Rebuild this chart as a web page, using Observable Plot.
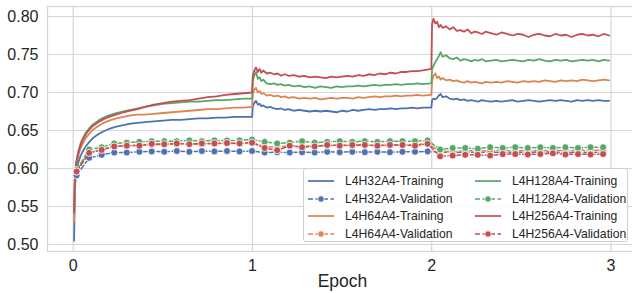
<!DOCTYPE html>
<html><head><meta charset="utf-8">
<script src="https://cdn.jsdelivr.net/npm/d3@7"></script>
<script src="https://cdn.jsdelivr.net/npm/@observablehq/plot@0.6"></script>
<style>
html,body{margin:0;padding:0;background:#fff;overflow:hidden}
#wrap{position:relative;width:632px;height:293px;overflow:hidden;font-family:"Liberation Sans",Arial,sans-serif;color:#262626}
#chart svg{max-width:none !important}
#legend{position:absolute;left:303px;top:168px;width:325px;height:74px;border:1px solid #d0d0d0;border-radius:3px;background:rgba(255,255,255,0.85);box-sizing:border-box}
.item{position:absolute;height:16px;display:flex;align-items:center;font-size:12.2px;white-space:nowrap}
</style></head><body><div id="wrap"><div id="chart"></div><div id="legend"></div></div>
<script>
const models = ["L4H32A4", "L4H64A4", "L4H128A4", "L4H256A4"];
const colors = ["#4C72B0", "#DD8452", "#55A868", "#C44E52"];
const xTicks = [0, 1, 2, 3];
const yTicks = [0.50, 0.55, 0.60, 0.65, 0.70, 0.75, 0.80];

const trainEpoch = [
  0.005, 0.01, 0.015, 0.02, 0.03, 0.04, 0.05, 0.07, 0.09, 0.11, 0.14, 0.17, 0.2, 0.24, 0.28, 0.32, 0.36, 0.4, 0.45, 0.5, 0.55, 0.6, 0.65, 0.7, 0.75, 0.8, 0.85, 0.9, 0.95, 0.998,
  1.002, 1.01, 1.02, 1.03, 1.04, 1.05, 1.06, 1.08, 1.10, 1.12, 1.14, 1.16, 1.18, 1.20, 1.23, 1.26, 1.29, 1.32, 1.35, 1.38, 1.41, 1.44, 1.47, 1.50, 1.53, 1.56, 1.59, 1.62, 1.65, 1.68, 1.71, 1.74, 1.77, 1.80, 1.83, 1.86, 1.89, 1.92, 1.95, 1.998,
  2.002, 2.01, 2.02, 2.03, 2.04, 2.05, 2.06, 2.08, 2.10, 2.12, 2.14, 2.16, 2.18, 2.20, 2.22, 2.24, 2.26, 2.28, 2.30, 2.33, 2.36, 2.39, 2.42, 2.45, 2.48, 2.51, 2.54, 2.57, 2.60, 2.63, 2.66, 2.69, 2.72, 2.75, 2.78, 2.81, 2.84, 2.87, 2.90, 2.93, 2.96, 2.99
];
const trainL4H32A4 = [
  0.505, 0.575, 0.592, 0.600, 0.609, 0.616, 0.621, 0.629, 0.635, 0.640, 0.645, 0.649, 0.652, 0.655, 0.657, 0.659, 0.660, 0.661, 0.662, 0.663, 0.664, 0.664, 0.665, 0.666, 0.666, 0.667, 0.667, 0.668, 0.668, 0.668,
  0.682, 0.686, 0.689, 0.684, 0.685, 0.682, 0.683, 0.680, 0.681, 0.679, 0.678, 0.679, 0.677, 0.678, 0.676, 0.677, 0.676, 0.675, 0.676, 0.675, 0.676, 0.675, 0.674, 0.676, 0.675, 0.677, 0.676, 0.677, 0.678, 0.677, 0.678, 0.678, 0.679, 0.678, 0.679, 0.679, 0.680, 0.679, 0.680, 0.680,
  0.690, 0.692, 0.691, 0.693, 0.696, 0.698, 0.694, 0.695, 0.692, 0.691, 0.692, 0.690, 0.691, 0.689, 0.690, 0.689, 0.688, 0.690, 0.689, 0.688, 0.689, 0.688, 0.689, 0.690, 0.688, 0.689, 0.690, 0.689, 0.688, 0.689, 0.690, 0.689, 0.690, 0.689, 0.688, 0.690, 0.689, 0.690, 0.689, 0.690, 0.689, 0.689
];
const trainL4H64A4 = [
  0.530, 0.585, 0.600, 0.608, 0.618, 0.626, 0.631, 0.640, 0.646, 0.651, 0.656, 0.660, 0.663, 0.666, 0.668, 0.670, 0.671, 0.671, 0.672, 0.673, 0.674, 0.675, 0.676, 0.677, 0.678, 0.678, 0.679, 0.680, 0.680, 0.681,
  0.698, 0.704, 0.706, 0.700, 0.702, 0.698, 0.699, 0.696, 0.697, 0.695, 0.696, 0.694, 0.695, 0.693, 0.694, 0.692, 0.693, 0.692, 0.693, 0.691, 0.692, 0.693, 0.692, 0.693, 0.693, 0.692, 0.694, 0.693, 0.694, 0.695, 0.694, 0.695, 0.695, 0.696, 0.695, 0.696, 0.696, 0.697, 0.696, 0.697,
  0.715, 0.722, 0.725, 0.719, 0.721, 0.717, 0.719, 0.716, 0.717, 0.715, 0.716, 0.714, 0.713, 0.715, 0.713, 0.714, 0.713, 0.712, 0.714, 0.713, 0.714, 0.713, 0.715, 0.714, 0.713, 0.715, 0.714, 0.715, 0.714, 0.716, 0.715, 0.714, 0.716, 0.715, 0.716, 0.715, 0.717, 0.716, 0.715, 0.716, 0.717, 0.716
];
const trainL4H128A4 = [
  0.545, 0.590, 0.604, 0.613, 0.624, 0.632, 0.638, 0.647, 0.653, 0.658, 0.663, 0.667, 0.670, 0.673, 0.675, 0.677, 0.679, 0.681, 0.683, 0.685, 0.686, 0.687, 0.688, 0.688, 0.689, 0.690, 0.690, 0.691, 0.692, 0.692,
  0.715, 0.722, 0.727, 0.718, 0.720, 0.715, 0.717, 0.712, 0.711, 0.712, 0.710, 0.711, 0.709, 0.710, 0.708, 0.709, 0.707, 0.708, 0.706, 0.708, 0.707, 0.706, 0.708, 0.707, 0.708, 0.708, 0.709, 0.708, 0.709, 0.710, 0.709, 0.710, 0.710, 0.711, 0.710, 0.711, 0.711, 0.712, 0.711, 0.712,
  0.731, 0.735, 0.740, 0.744, 0.748, 0.753, 0.747, 0.749, 0.745, 0.744, 0.746, 0.742, 0.744, 0.743, 0.741, 0.743, 0.742, 0.744, 0.741, 0.742, 0.743, 0.741, 0.742, 0.743, 0.742, 0.741, 0.743, 0.742, 0.744, 0.742, 0.741, 0.743, 0.742, 0.743, 0.741, 0.742, 0.743, 0.742, 0.743, 0.741, 0.743, 0.742
];
const trainL4H256A4 = [
  0.542, 0.592, 0.603, 0.611, 0.622, 0.630, 0.636, 0.645, 0.651, 0.656, 0.661, 0.665, 0.668, 0.671, 0.674, 0.676, 0.678, 0.681, 0.684, 0.686, 0.688, 0.689, 0.690, 0.692, 0.694, 0.695, 0.697, 0.698, 0.699, 0.700,
  0.722, 0.729, 0.733, 0.727, 0.731, 0.726, 0.729, 0.725, 0.726, 0.724, 0.725, 0.722, 0.724, 0.722, 0.723, 0.721, 0.722, 0.720, 0.721, 0.720, 0.719, 0.721, 0.720, 0.721, 0.722, 0.721, 0.723, 0.722, 0.724, 0.723, 0.725, 0.724, 0.726, 0.725, 0.727, 0.727, 0.728, 0.728, 0.729, 0.731,
  0.790, 0.797, 0.791, 0.793, 0.786, 0.789, 0.785, 0.787, 0.783, 0.786, 0.781, 0.782, 0.780, 0.783, 0.778, 0.780, 0.779, 0.777, 0.780, 0.778, 0.776, 0.779, 0.777, 0.775, 0.777, 0.776, 0.773, 0.776, 0.777, 0.775, 0.774, 0.777, 0.775, 0.776, 0.773, 0.776, 0.777, 0.775, 0.776, 0.774, 0.777, 0.775
];

const valEpoch = [
  0.019, 0.089, 0.159, 0.229, 0.299, 0.369, 0.438, 0.508, 0.578, 0.648, 0.718, 0.788, 0.858, 0.928, 0.998,
  1.068, 1.138, 1.208, 1.277, 1.347, 1.417, 1.487, 1.557, 1.627, 1.697, 1.767, 1.837, 1.907, 1.977,
  2.047, 2.117, 2.187, 2.257, 2.326, 2.396, 2.466, 2.536, 2.606, 2.676, 2.746, 2.816, 2.886, 2.956
];
const valL4H32A4 = [
  0.591, 0.614, 0.618, 0.621, 0.621, 0.622, 0.6225, 0.622, 0.623, 0.622, 0.623, 0.6225, 0.623, 0.6225, 0.623,
  0.621, 0.6215, 0.621, 0.6215, 0.621, 0.622, 0.6215, 0.622, 0.6215, 0.622, 0.6215, 0.622, 0.622, 0.6225,
  0.6215, 0.621, 0.6215, 0.621, 0.6215, 0.621, 0.6215, 0.621, 0.622, 0.6215, 0.621, 0.6215, 0.621, 0.6215
];
const valL4H64A4 = [
  0.596, 0.621, 0.625, 0.629, 0.630, 0.631, 0.631, 0.632, 0.632, 0.633, 0.632, 0.633, 0.633, 0.633, 0.634,
  0.629, 0.628, 0.630, 0.629, 0.630, 0.630, 0.631, 0.630, 0.631, 0.630, 0.631, 0.631, 0.631, 0.633,
  0.622, 0.623, 0.623, 0.6235, 0.623, 0.624, 0.623, 0.624, 0.6235, 0.624, 0.6235, 0.624, 0.624, 0.624
];
const valL4H128A4 = [
  0.598, 0.625, 0.628, 0.633, 0.634, 0.635, 0.636, 0.636, 0.636, 0.637, 0.636, 0.637, 0.637, 0.637, 0.638,
  0.635, 0.633, 0.634, 0.636, 0.634, 0.635, 0.636, 0.635, 0.636, 0.635, 0.636, 0.636, 0.636, 0.637,
  0.625, 0.627, 0.627, 0.626, 0.628, 0.627, 0.628, 0.627, 0.628, 0.627, 0.628, 0.627, 0.628, 0.628
];
const valL4H256A4 = [
  0.596, 0.6205, 0.6245, 0.629, 0.630, 0.630, 0.6325, 0.632, 0.633, 0.632, 0.633, 0.633, 0.6335, 0.633, 0.634,
  0.627, 0.624, 0.630, 0.628, 0.629, 0.631, 0.630, 0.631, 0.631, 0.630, 0.631, 0.631, 0.630, 0.6325,
  0.616, 0.617, 0.618, 0.618, 0.617, 0.619, 0.619, 0.6185, 0.619, 0.620, 0.6185, 0.619, 0.6185, 0.619
];

const trainSeries = [trainL4H32A4, trainL4H64A4, trainL4H128A4, trainL4H256A4];
const valSeries = [valL4H32A4, valL4H64A4, valL4H128A4, valL4H256A4];

const train = models.flatMap((m, i) => trainEpoch.map((e, j) => ({model: m, epoch: e, acc: trainSeries[i][j]})));
const val = models.flatMap((m, i) => valEpoch.map((e, j) => ({model: m, epoch: e, acc: valSeries[i][j]})));

const gridColor = "#d6d6d6";
const marks = [
  Plot.gridX(xTicks, {stroke: gridColor, strokeOpacity: 1, strokeWidth: 1.2}),
  Plot.gridY(yTicks, {stroke: gridColor, strokeOpacity: 1, strokeWidth: 1.2}),
  Plot.frame({stroke: gridColor, strokeWidth: 1.3}),
  Plot.axisX(xTicks, {tickSize: 0, tickPadding: 8, fontSize: 16, label: null, tickFormat: d => String(d)}),
  Plot.axisY(yTicks, {tickSize: 0, tickPadding: 9, fontSize: 16, label: null, tickFormat: d3.format(".2f")}),
  Plot.text(["Epoch"], {frameAnchor: "bottom", dy: 35, fontSize: 17.5, fill: "#262626"})
];
models.forEach((m, i) => {
  marks.push(Plot.line(train.filter(d => d.model === m), {x: "epoch", y: "acc", stroke: colors[i], strokeWidth: 1.8}));
});
models.forEach((m, i) => {
  const rows = val.filter(d => d.model === m);
  marks.push(Plot.line(rows, {x: "epoch", y: "acc", stroke: colors[i], strokeWidth: 1.5, strokeDasharray: "5,2.5"}));
  marks.push(Plot.dot(rows, {x: "epoch", y: "acc", r: 3.5, fill: colors[i], stroke: "#fff", strokeWidth: 0.8}));
});

const chart = Plot.plot({
  width: 637, height: 293,
  marginLeft: 47, marginRight: 0, marginTop: 6, marginBottom: 42,
  style: {fontFamily: "'Liberation Sans', Arial, sans-serif", color: "#262626", background: "#fff", overflow: "visible"},
  x: {domain: [-0.1433, 3.148]},
  y: {domain: [0.49079, 0.81316]},
  marks
});
document.getElementById("chart").appendChild(chart);

// legend
const legend = document.getElementById("legend");
const entries = [];
models.forEach((m, i) => {
  entries.push({label: m + "-Training", color: colors[i], dashed: false});
  entries.push({label: m + "-Validation", color: colors[i], dashed: true});
});
entries.forEach((e, k) => {
  const col = k < 4 ? 0 : 1, row = k % 4;
  const div = document.createElement("div");
  div.className = "item";
  div.style.left = (col === 0 ? 3 : 170) + "px";
  div.style.top = (4 + row * 17.5) + "px";
  const line = e.dashed
    ? `<line x1="1" x2="27" y1="8" y2="8" stroke="${e.color}" stroke-width="1.5" stroke-dasharray="5,2.5"/><circle cx="14" cy="8" r="3.2" fill="${e.color}" stroke="#fff" stroke-width="0.8"/>`
    : `<line x1="1" x2="27" y1="8" y2="8" stroke="${e.color}" stroke-width="1.7"/>`;
  div.innerHTML = `<svg width="28" height="16" style="margin-right:10px">${line}</svg><span>${e.label}</span>`;
  legend.appendChild(div);
});
</script></body></html>
